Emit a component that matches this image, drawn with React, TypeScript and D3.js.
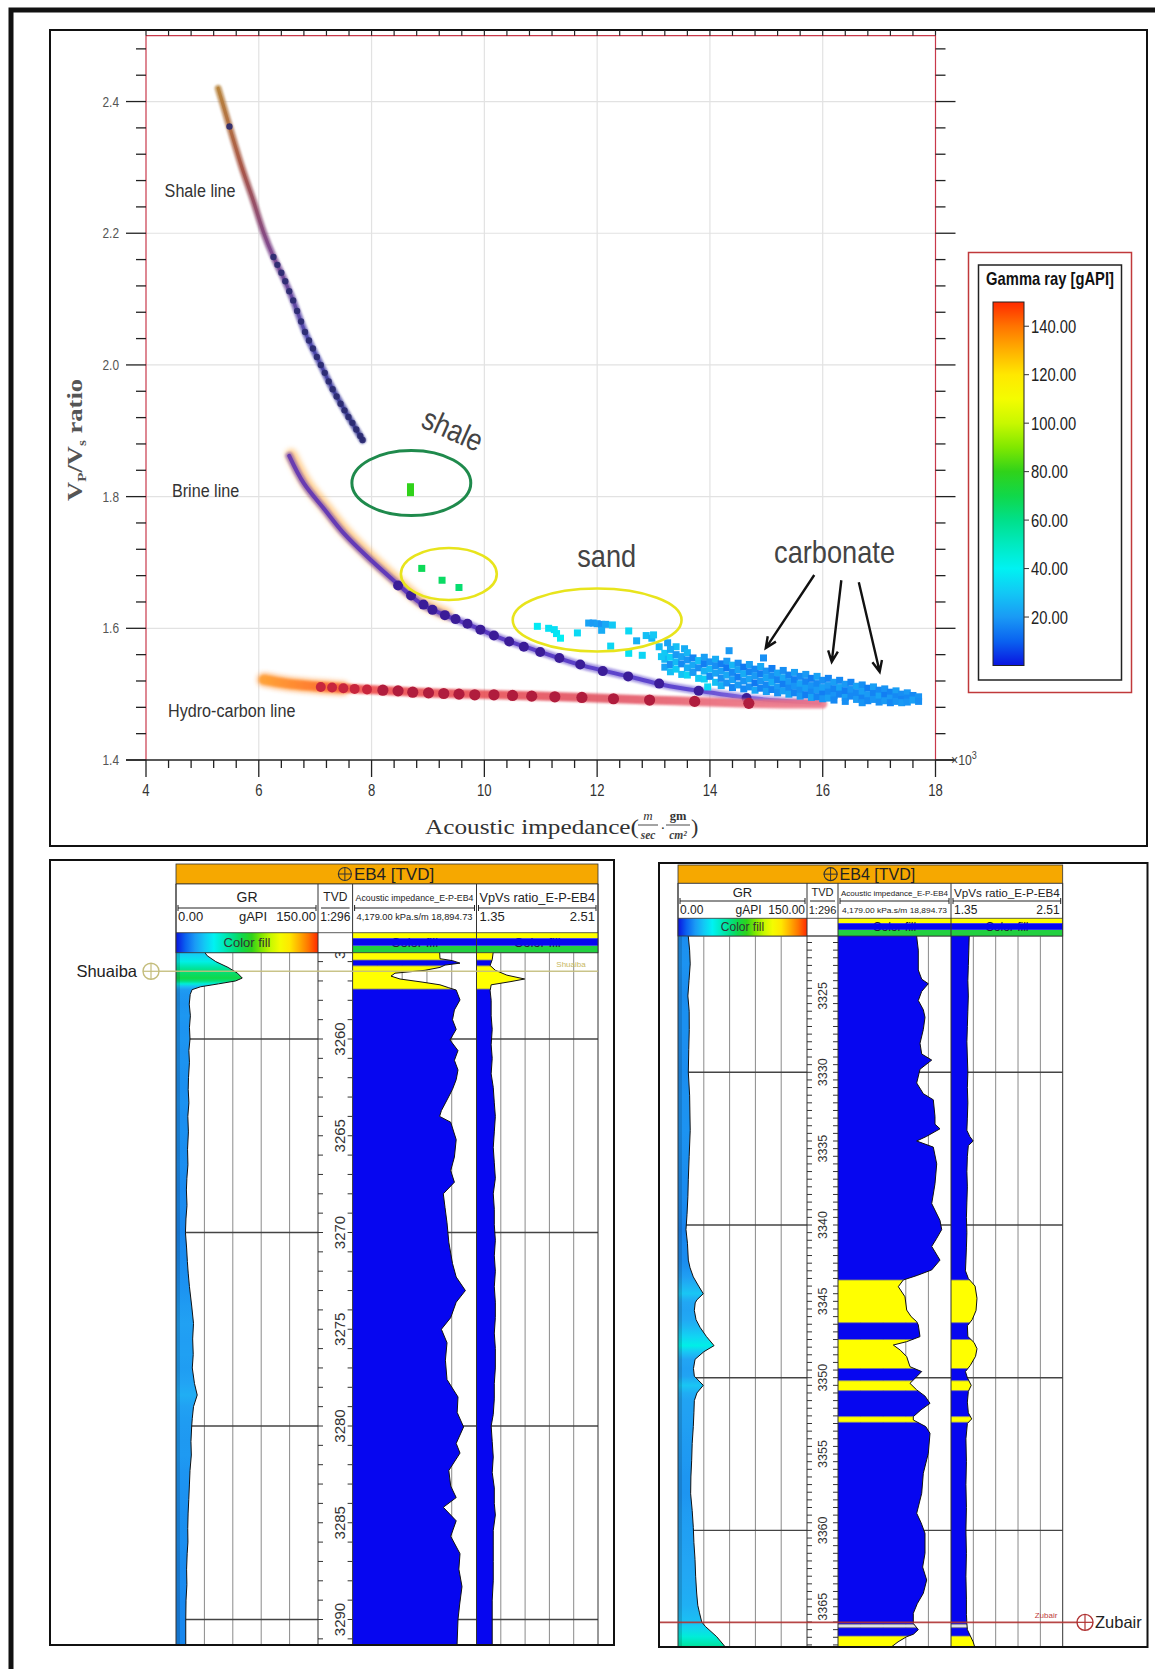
import React from "react";
import * as d3 from "d3";

const W = 1155;
const H = 1669;
const SANS = "'Liberation Sans',Arial,sans-serif";
const SERIF = "'Liberation Serif','Times New Roman',serif";
const NARROW_SX = 0.82;

// ================= Cross-plot: axes =================
const xMajorTicks = [4, 6, 8, 10, 12, 14, 16, 18];
const yMajorTicks = [1.4, 1.6, 1.8, 2.0, 2.2, 2.4];
const xGridValues = [6, 8, 10, 12, 14, 16];
const yGridValues = [1.6, 1.8, 2.0, 2.2, 2.4];

// ================= Gamma-ray colour scales =================
const grStops = [0, 10, 20, 30, 40, 50, 60, 70, 80, 90, 100, 110, 120, 130, 140, 150];
const grColors = ["#0a14e0", "#0a62f0", "#1a9af5", "#12c8f5", "#00f2f2", "#00eac0", "#00e08a", "#10d84a", "#30d21a", "#80e800", "#c8f800", "#f4fc00", "#ffe800", "#ffb000", "#ff7400", "#ff2a00"];
const logFillColors = ["#1048e6", "#1886ee", "#22a6f4", "#18c8f4", "#00f0f0", "#00eac0", "#00e08a", "#10d84a", "#30d21a", "#80e800", "#c8f800", "#f4fc00", "#ffe800", "#ffb000", "#ff7400", "#ff2a00"];
const legendTicks = [20, 40, 60, 80, 100, 120, 140];

// ================= Rock-physics template lines =================
const shaleLine = [[5.28, 2.42], [5.35, 2.4], [5.48, 2.362], [5.7, 2.3], [5.9, 2.25], [6.09, 2.2], [6.26, 2.164], [6.45, 2.13], [6.6, 2.1], [6.82, 2.05], [7.1, 2.0], [7.3, 1.965], [7.53, 1.93], [7.84, 1.886]];
const shaleDots = [[5.48, 2.362], [6.26, 2.164], [6.33, 2.152], [6.4, 2.14], [6.47, 2.127], [6.54, 2.112], [6.61, 2.098], [6.68, 2.082], [6.75, 2.066], [6.82, 2.05], [6.89, 2.037], [6.96, 2.025], [7.03, 2.012], [7.1, 2.0], [7.17, 1.988], [7.24, 1.975], [7.31, 1.963], [7.38, 1.952], [7.45, 1.941], [7.52, 1.931], [7.59, 1.921], [7.66, 1.912], [7.73, 1.902], [7.8, 1.892], [7.84, 1.886]];
const brineLine = [[6.54, 1.862], [6.8, 1.82], [7.17, 1.78], [7.5, 1.745], [7.92, 1.709], [8.4, 1.672], [8.87, 1.638], [9.3, 1.62], [9.8, 1.603], [10.23, 1.587], [10.9, 1.567], [11.72, 1.544], [12.6, 1.526], [13.18, 1.514], [13.89, 1.504], [14.72, 1.494], [15.3, 1.49], [15.95, 1.487]];
const brineDots = [[8.47, 1.665], [8.7, 1.65], [8.92, 1.636], [9.08, 1.628], [9.3, 1.62], [9.49, 1.614], [9.7, 1.607], [9.93, 1.598], [10.17, 1.589], [10.44, 1.58], [10.7, 1.572], [10.99, 1.564], [11.33, 1.555], [11.7, 1.545], [12.1, 1.535], [12.55, 1.527], [13.1, 1.516], [13.8, 1.505], [14.65, 1.494]];
const hcLine = [[6.09, 1.522], [6.5, 1.516], [7.0, 1.512], [7.5, 1.509], [8.19, 1.506], [9.0, 1.502], [10.23, 1.499], [11.72, 1.495], [12.93, 1.491], [13.73, 1.489], [14.68, 1.486], [15.3, 1.485], [16.0, 1.485]];
const hcDots = [[7.1, 1.511], [7.3, 1.51], [7.5, 1.509], [7.7, 1.508], [7.92, 1.507], [8.2, 1.506], [8.47, 1.505], [8.73, 1.503], [9.01, 1.502], [9.28, 1.501], [9.55, 1.5], [9.83, 1.499], [10.17, 1.499], [10.5, 1.498], [10.84, 1.497], [11.25, 1.496], [11.73, 1.495], [12.29, 1.493], [12.93, 1.491], [13.73, 1.489], [14.69, 1.486]];

// ================= Well-log samples (AI x1000, Vp/Vs, GR) =================
const shaleSamples = [[8.69, 1.815, 80], [8.69, 1.806, 80]];
const shalySandSamples = [[8.89, 1.691, 68], [9.25, 1.673, 66], [9.55, 1.662, 64]];
const sandSamples = [[10.94, 1.603, 38], [11.14, 1.6, 36], [11.24, 1.598, 35], [11.28, 1.592, 37], [11.35, 1.585, 39], [11.65, 1.593, 34], [11.85, 1.608, 22], [11.93, 1.608, 20], [12.0, 1.607, 21], [12.08, 1.606, 19], [12.08, 1.597, 24], [12.15, 1.606, 23], [12.24, 1.573, 33], [12.27, 1.605, 30], [12.56, 1.596, 34], [12.56, 1.562, 36], [12.7, 1.581, 25], [12.8, 1.559, 33], [12.87, 1.589, 28], [12.97, 1.585, 26], [13.0, 1.59, 30], [13.1, 1.572, 27], [13.14, 1.557, 30]];
const carbonateSamples = [
  [13.25, 1.578, 22], [13.4, 1.572, 28], [13.55, 1.569, 24], [13.9, 1.523, 32], [13.96, 1.511, 34], [14.34, 1.566, 20], [14.95, 1.555, 18],
  [13.2, 1.562, 30], [13.2, 1.553, 26], [13.2, 1.541, 22],
  [13.3, 1.568, 24], [13.3, 1.556, 32], [13.3, 1.545, 18], [13.3, 1.534, 28],
  [13.4, 1.56, 20], [13.4, 1.549, 27], [13.4, 1.538, 31],
  [13.5, 1.557, 22], [13.5, 1.546, 17], [13.5, 1.53, 29],
  [13.6, 1.563, 26], [13.6, 1.552, 19], [13.6, 1.54, 24], [13.6, 1.529, 33],
  [13.7, 1.555, 16], [13.7, 1.544, 23], [13.7, 1.533, 20],
  [13.8, 1.551, 28], [13.8, 1.54, 18], [13.8, 1.524, 30],
  [13.9, 1.556, 21], [13.9, 1.546, 15], [13.9, 1.535, 25],
  [14.0, 1.549, 19], [14.0, 1.538, 26], [14.0, 1.527, 17],
  [14.1, 1.553, 24], [14.1, 1.543, 18], [14.1, 1.532, 22], [14.1, 1.518, 28],
  [14.2, 1.546, 15], [14.2, 1.535, 21], [14.2, 1.524, 18], [14.2, 1.513, 25],
  [14.3, 1.55, 20], [14.3, 1.54, 14], [14.3, 1.529, 23], [14.3, 1.517, 19],
  [14.4, 1.544, 26], [14.4, 1.533, 17], [14.4, 1.522, 21], [14.4, 1.51, 16],
  [14.5, 1.547, 18], [14.5, 1.537, 22], [14.5, 1.526, 15], [14.5, 1.514, 20],
  [14.6, 1.541, 14], [14.6, 1.531, 24], [14.6, 1.52, 19], [14.6, 1.508, 17],
  [14.7, 1.545, 21], [14.7, 1.534, 16], [14.7, 1.523, 22], [14.7, 1.511, 18],
  [14.8, 1.538, 17], [14.8, 1.528, 20], [14.8, 1.517, 14], [14.8, 1.506, 23],
  [14.9, 1.542, 23], [14.9, 1.531, 15], [14.9, 1.52, 19], [14.9, 1.509, 16],
  [15.0, 1.535, 19], [15.0, 1.525, 22], [15.0, 1.514, 17], [15.0, 1.504, 21],
  [15.1, 1.539, 15], [15.1, 1.528, 18], [15.1, 1.518, 24], [15.1, 1.507, 16],
  [15.2, 1.532, 22], [15.2, 1.522, 16], [15.2, 1.511, 20], [15.2, 1.502, 18],
  [15.3, 1.536, 18], [15.3, 1.525, 23], [15.3, 1.515, 15], [15.3, 1.505, 21],
  [15.4, 1.529, 16], [15.4, 1.519, 20], [15.4, 1.509, 17], [15.4, 1.5, 22],
  [15.5, 1.533, 21], [15.5, 1.522, 15], [15.5, 1.512, 19], [15.5, 1.502, 16],
  [15.6, 1.527, 17], [15.6, 1.516, 22], [15.6, 1.506, 18], [15.6, 1.497, 20],
  [15.7, 1.53, 20], [15.7, 1.519, 16], [15.7, 1.509, 21], [15.7, 1.499, 15],
  [15.8, 1.524, 15], [15.8, 1.513, 19], [15.8, 1.503, 17], [15.8, 1.495, 22],
  [15.9, 1.527, 22], [15.9, 1.516, 17], [15.9, 1.506, 20], [15.9, 1.496, 16],
  [16.0, 1.521, 18], [16.0, 1.51, 21], [16.0, 1.5, 15], [16.0, 1.493, 19],
  [16.1, 1.524, 16], [16.1, 1.513, 20], [16.1, 1.503, 17], [16.1, 1.494, 21],
  [16.2, 1.518, 21], [16.2, 1.508, 16], [16.2, 1.498, 19], [16.2, 1.491, 17],
  [16.3, 1.521, 17], [16.3, 1.51, 22], [16.3, 1.5, 16],
  [16.4, 1.515, 20], [16.4, 1.505, 15], [16.4, 1.495, 21], [16.4, 1.489, 18],
  [16.5, 1.518, 16], [16.5, 1.507, 19], [16.5, 1.497, 17],
  [16.6, 1.512, 22], [16.6, 1.502, 17], [16.6, 1.492, 20],
  [16.7, 1.514, 18], [16.7, 1.504, 21], [16.7, 1.494, 16], [16.7, 1.487, 19],
  [16.8, 1.509, 15], [16.8, 1.499, 20], [16.8, 1.49, 17],
  [16.9, 1.511, 21], [16.9, 1.501, 16], [16.9, 1.492, 19],
  [17.0, 1.506, 17], [17.0, 1.497, 22], [17.0, 1.488, 18],
  [17.1, 1.508, 19], [17.1, 1.498, 15], [17.1, 1.49, 20],
  [17.2, 1.503, 16], [17.2, 1.494, 20], [17.2, 1.487, 17],
  [17.3, 1.505, 21], [17.3, 1.496, 17], [17.3, 1.489, 19],
  [17.4, 1.5, 18], [17.4, 1.492, 16], [17.4, 1.487, 20],
  [17.5, 1.502, 20], [17.5, 1.494, 17], [17.5, 1.488, 19],
  [17.6, 1.498, 17], [17.6, 1.491, 21],
  [17.7, 1.496, 19], [17.7, 1.489, 18],
];

// ================= Annotations (data units) =================
const templateLabels = [
  { text: "Shale line", x: 4.33, y: 2.255 },
  { text: "Brine line", x: 4.46, y: 1.8 },
  { text: "Hydro-carbon line", x: 4.39, y: 1.465 },
];
const clusterLabels = [
  { text: "shale", x: 9.44, y: 1.902, rot: 24 },
  { text: "sand", x: 12.17, y: 1.693, rot: 0 },
  { text: "carbonate", x: 16.21, y: 1.699, rot: 0 },
];
const clusterEllipses = [
  { cx: 8.705, cy: 1.8206, rx: 1.054, ry: 0.0494, color: "#1f8a4c", w: 3 },
  { cx: 9.37, cy: 1.6825, rx: 0.85, ry: 0.0395, color: "#e8e41c", w: 2.6 },
  { cx: 12.0, cy: 1.6126, rx: 1.497, ry: 0.0478, color: "#e8e41c", w: 2.6 },
];
const carbonateArrows = [
  [15.85, 1.681, 14.99, 1.57],
  [16.33, 1.673, 16.16, 1.549],
  [16.64, 1.67, 17.01, 1.534],
];

// ================= Well logs: EB4 upper interval (Shuaiba) =================
const leftDepthLabels = [3255, 3260, 3265, 3270, 3275, 3280, 3285, 3290];
const leftDepthGrid = [3260, 3270, 3280, 3290];
const leftGR = [[3255.5, 30], [3255.7, 33], [3256.0, 42], [3256.3, 55], [3256.6, 65], [3256.85, 70], [3257.0, 63], [3257.15, 45], [3257.3, 26], [3257.45, 17], [3257.7, 15], [3258.2, 14], [3258.8, 15.2], [3259.4, 14.2], [3260.0, 14.8], [3260.6, 13.6], [3261.2, 14.2], [3262.0, 13.2], [3262.6, 12.9], [3263.3, 13.6], [3264.0, 12.5], [3264.8, 13.1], [3265.7, 12.2], [3266.5, 12.6], [3267.2, 11.5], [3267.8, 11.0], [3268.6, 11.6], [3269.3, 10.5], [3270.0, 10.0], [3270.8, 11.2], [3271.5, 12.0], [3272.1, 12.9], [3272.8, 14.2], [3273.8, 16.6], [3274.7, 18.5], [3275.5, 17.6], [3276.3, 18.2], [3277.0, 17.2], [3277.8, 19.5], [3278.4, 22.4], [3279.0, 18.5], [3279.6, 17.2], [3280.0, 16.6], [3280.8, 15.8], [3281.5, 16.2], [3282.3, 14.8], [3283.0, 14.2], [3283.8, 13.5], [3284.5, 12.8], [3285.3, 12.4], [3286.0, 12.6], [3286.6, 11.8], [3287.4, 11.2], [3288.2, 11.5], [3289.0, 10.6], [3290.0, 10.3], [3291.4, 10.3]];
const leftAI = [[3255.5, 14512], [3255.85, 14560], [3255.95, 16044], [3256.08, 16935], [3256.18, 15153], [3256.3, 14559], [3256.45, 12778], [3256.6, 9215], [3256.75, 8740], [3256.9, 9809], [3257.05, 12303], [3257.2, 14559], [3257.35, 15605], [3257.47, 16484], [3257.98, 16935], [3258.5, 16270], [3259.0, 16044], [3259.5, 16484], [3260.05, 15747], [3260.6, 16697], [3261.1, 16270], [3261.6, 16697], [3262.1, 16484], [3262.6, 16044], [3263.15, 15391], [3263.7, 14726], [3264.0, 14512], [3264.3, 15830], [3265.2, 16484], [3266.1, 16270], [3266.8, 15830], [3267.4, 16270], [3268.0, 14952], [3268.7, 15153], [3269.5, 15391], [3270.5, 15605], [3271.6, 16044], [3272.3, 16484], [3273.0, 17576], [3273.6, 16484], [3274.4, 15830], [3275.0, 14726], [3275.7, 15391], [3276.6, 15200], [3277.6, 15391], [3278.5, 16697], [3279.3, 16600], [3280.05, 17362], [3280.9, 16484], [3281.4, 16935], [3282.3, 15605], [3283.1, 15830], [3283.7, 16484], [3284.2, 14952], [3284.9, 16484], [3285.7, 15830], [3286.6, 16935], [3287.4, 16800], [3288.3, 17172], [3289.2, 16900], [3290.0, 16697], [3291.4, 16579]];
const leftVpVs = [[3255.5, 1.51], [3255.9, 1.5], [3256.2, 1.48], [3256.45, 1.53], [3256.7, 1.64], [3256.9, 1.81], [3257.04, 1.67], [3257.2, 1.49], [3257.5, 1.48], [3258.0, 1.49], [3258.8, 1.49], [3259.5, 1.5], [3260.3, 1.49], [3261.0, 1.5], [3261.8, 1.49], [3262.5, 1.51], [3263.3, 1.52], [3264.0, 1.53], [3264.8, 1.52], [3265.6, 1.51], [3266.4, 1.52], [3267.2, 1.53], [3268.0, 1.51], [3268.8, 1.52], [3269.6, 1.52], [3270.4, 1.53], [3271.2, 1.52], [3272.0, 1.53], [3272.8, 1.52], [3273.6, 1.53], [3274.4, 1.53], [3275.2, 1.52], [3276.0, 1.53], [3277.0, 1.53], [3277.8, 1.52], [3278.6, 1.52], [3279.4, 1.51], [3280.0, 1.49], [3280.8, 1.5], [3281.6, 1.51], [3282.4, 1.5], [3283.2, 1.52], [3284.0, 1.52], [3284.6, 1.53], [3285.4, 1.51], [3286.2, 1.51], [3287.0, 1.51], [3288.0, 1.51], [3289.0, 1.5], [3290.0, 1.5], [3291.4, 1.5]];
const leftFacies = [[3255.4, 3255.92, "Y"], [3255.92, 3256.22, "B"], [3256.22, 3257.42, "Y"], [3257.42, 3291.5, "B"]];
const leftTops = [{ name: "Shuaiba", depth: 3256.5 }];

// ================= Well logs: EB4 lower interval (Zubair) =================
const rightDepthLabels = [3320, 3325, 3330, 3335, 3340, 3345, 3350, 3355, 3360, 3365];
const rightDepthGrid = [3330, 3340, 3350, 3360];
const rightGR = [[3320.9, 12], [3321.1, 12], [3322.0, 13.5], [3322.9, 14.2], [3324.0, 12.8], [3325.0, 11.5], [3326.0, 13], [3327.2, 13.1], [3328.5, 12.5], [3330.0, 12], [3331.5, 13.5], [3333.8, 14.2], [3335.5, 13], [3337.0, 12], [3338.15, 11.5], [3339.3, 10.5], [3340.3, 9.3], [3341.2, 11], [3342.3, 12], [3342.8, 14], [3343.4, 17.8], [3344.0, 24], [3344.5, 29.4], [3344.9, 22], [3345.1, 20], [3345.6, 19], [3346.2, 21], [3346.7, 25.6], [3347.3, 33], [3347.9, 41.9], [3348.3, 30], [3348.8, 19.8], [3349.4, 18], [3349.9, 19], [3350.5, 29.4], [3351.0, 22], [3351.5, 19], [3352.3, 18.5], [3353.2, 17.8], [3354.3, 16.5], [3355.4, 15.9], [3356.5, 15], [3357.6, 14.7], [3358.7, 16.5], [3359.8, 17.8], [3360.8, 18.5], [3361.9, 19.8], [3363.0, 20.5], [3364.1, 21.7], [3364.9, 23], [3365.4, 25], [3366.0, 27.6], [3366.3, 32], [3366.96, 45], [3367.7, 56]];
const rightAI = [[3320.9, 14428], [3321.12, 14428], [3322.0, 14636], [3323.3, 14636], [3323.9, 15079], [3324.2, 15939], [3324.7, 15079], [3325.3, 14636], [3325.9, 15288], [3326.4, 15509], [3327.2, 15288], [3328.1, 14858], [3328.8, 15079], [3329.2, 16382], [3329.8, 14858], [3330.7, 14428], [3331.4, 15288], [3331.8, 16590], [3332.9, 16811], [3333.4, 16811], [3333.7, 17462], [3334.2, 15700], [3334.5, 14428], [3334.9, 16590], [3336.0, 17033], [3337.3, 16811], [3338.6, 16382], [3339.7, 17462], [3340.3, 17684], [3340.9, 17000], [3341.4, 16382], [3342.3, 17462], [3342.94, 16382], [3343.3, 14500], [3343.6, 12683], [3344.04, 12032], [3344.7, 12904], [3345.57, 13126], [3346.0, 13700], [3346.33, 14428], [3346.55, 14636], [3347.31, 14858], [3347.64, 13126], [3347.86, 11381], [3348.2, 12300], [3348.62, 13126], [3349.28, 13556], [3349.6, 15079], [3349.93, 14428], [3350.37, 13556], [3350.8, 14428], [3351.2, 15500], [3351.68, 16160], [3352.1, 15000], [3352.55, 13985], [3352.77, 13985], [3353.2, 15600], [3353.64, 16160], [3354.95, 15939], [3356.26, 15288], [3357.57, 15079], [3358.88, 14428], [3359.5, 15000], [3360.19, 15509], [3361.5, 15509], [3362.4, 15200], [3363.25, 15730], [3364.12, 15288], [3364.8, 14500], [3365.43, 13985], [3366.09, 13985], [3366.5, 14636], [3366.8, 14000], [3366.96, 13126], [3367.3, 12000], [3367.7, 10951]];
const rightVpVs = [[3320.9, 1.54], [3322.0, 1.535], [3323.0, 1.53], [3324.0, 1.525], [3325.0, 1.53], [3326.0, 1.525], [3327.0, 1.52], [3328.0, 1.515], [3329.0, 1.52], [3330.0, 1.525], [3331.0, 1.52], [3332.0, 1.525], [3333.0, 1.52], [3333.8, 1.515], [3334.2, 1.545], [3334.5, 1.58], [3334.8, 1.53], [3335.5, 1.52], [3336.5, 1.515], [3337.5, 1.52], [3338.5, 1.515], [3339.5, 1.51], [3340.5, 1.515], [3341.5, 1.51], [3342.3, 1.505], [3343.0, 1.5], [3343.5, 1.53], [3344.0, 1.6], [3344.8, 1.62], [3345.6, 1.61], [3346.2, 1.57], [3346.6, 1.52], [3347.3, 1.525], [3347.7, 1.59], [3348.1, 1.62], [3348.6, 1.605], [3349.2, 1.55], [3349.6, 1.5], [3350.0, 1.52], [3350.5, 1.56], [3350.9, 1.53], [3351.6, 1.52], [3352.3, 1.53], [3352.7, 1.565], [3353.0, 1.52], [3354.0, 1.505], [3355.5, 1.51], [3357.0, 1.505], [3358.5, 1.51], [3360.0, 1.505], [3361.5, 1.51], [3363.0, 1.505], [3364.5, 1.51], [3365.5, 1.51], [3366.1, 1.515], [3366.5, 1.52], [3366.9, 1.55], [3367.3, 1.58], [3367.7, 1.6]];
const rightFacies = [[3320.8, 3343.6, "B"], [3343.6, 3346.4, "Y"], [3346.4, 3347.5, "B"], [3347.5, 3349.4, "Y"], [3349.4, 3350.2, "B"], [3350.2, 3350.85, "Y"], [3350.85, 3352.55, "B"], [3352.55, 3352.92, "Y"], [3352.92, 3366.15, "B"], [3366.15, 3366.37, "W"], [3366.37, 3366.92, "B"], [3366.92, 3367.8, "Y"]];
const rightTops = [{ name: "Zubair", depth: 3366.02 }];

const faciesColor: any = { B: "#0606f0", Y: "#ffff00", W: "#dedee8" };

const cmap = d3.scaleLinear<string>().domain(grStops).range(grColors).clamp(true);
const logCmap = d3.scaleLinear<string>().domain(grStops).range(logFillColors).clamp(true);

// condensed sans text (Arial Narrow look)
function NText({ x, y, sx = NARROW_SX, anchor = "start", rot = 0, children, ...rest }: any) {
  return (
    <text transform={`translate(${x},${y}) rotate(${rot}) scale(${sx},1)`} textAnchor={anchor} fontFamily={SANS} {...rest}>
      {children}
    </text>
  );
}

// ================= Cross-plot component =================
function CrossPlot() {
  const L = 146, R = 935.5, T = 35.7, B = 760;
  const x = d3.scaleLinear().domain([4, 18]).range([L, R]);
  const y = d3.scaleLinear().domain([1.4, 2.5]).range([B, T]);
  const xMinor = d3.range(4, 18.001, 0.4);
  const yMinor = d3.range(1.4, 2.4801, 0.04);
  const curve = d3.line<any>().x((d) => x(d[0])).y((d) => y(d[1])).curve(d3.curveCatmullRom.alpha(0.5));
  const cb = d3.scaleLinear().domain([0, 150]).range([665.5, 302]);
  const sq = 7;
  const allSamples = [...carbonateSamples, ...sandSamples, ...shalySandSamples, ...shaleSamples];

  const arrowHead = (a: number[]) => {
    const x1 = x(a[0]), y1 = y(a[1]), x2 = x(a[2]), y2 = y(a[3]);
    const ang = Math.atan2(y2 - y1, x2 - x1);
    const len = 12;
    const p1 = [x2 - len * Math.cos(ang - 0.42), y2 - len * Math.sin(ang - 0.42)];
    const p2 = [x2 - len * Math.cos(ang + 0.42), y2 - len * Math.sin(ang + 0.42)];
    return `M${x1},${y1}L${x2},${y2}M${p1[0]},${p1[1]}L${x2},${y2}L${p2[0]},${p2[1]}`;
  };

  return (
    <g>
      <defs>
        <filter id="blurA" filterUnits="userSpaceOnUse" x="0" y="0" width={W} height={H}>
          <feGaussianBlur stdDeviation="1.2" />
        </filter>
        <filter id="blurB" filterUnits="userSpaceOnUse" x="0" y="0" width={W} height={H}>
          <feGaussianBlur stdDeviation="2.4" />
        </filter>
        <filter id="blurDot" filterUnits="userSpaceOnUse" x="0" y="0" width={W} height={H}>
          <feGaussianBlur stdDeviation="0.6" />
        </filter>
        <linearGradient id="shaleGrad" gradientUnits="userSpaceOnUse" x1={x(5.28)} y1={y(2.42)} x2={x(7.84)} y2={y(1.886)}>
          <stop offset="0" stopColor="#b8843e" />
          <stop offset="0.22" stopColor="#a85648" />
          <stop offset="0.45" stopColor="#7e4890" />
          <stop offset="0.7" stopColor="#4e48b0" />
          <stop offset="1" stopColor="#34368e" />
        </linearGradient>
        <linearGradient id="brineGrad" gradientUnits="userSpaceOnUse" x1={x(6.54)} y1={0} x2={x(15.95)} y2={0}>
          <stop offset="0" stopColor="#6a3cb0" />
          <stop offset="0.3" stopColor="#5a38c0" />
          <stop offset="0.75" stopColor="#5e48d0" />
          <stop offset="0.9" stopColor="#8a70e0" />
          <stop offset="1" stopColor="#c070b8" />
        </linearGradient>
        <linearGradient id="hcGrad" gradientUnits="userSpaceOnUse" x1={x(6.09)} y1={0} x2={x(16)} y2={0}>
          <stop offset="0" stopColor="#ffa030" />
          <stop offset="0.08" stopColor="#ff7a2a" />
          <stop offset="0.18" stopColor="#ee4040" />
          <stop offset="0.6" stopColor="#e04858" />
          <stop offset="1" stopColor="#f07888" />
        </linearGradient>
        <linearGradient id="cbGrad" x1="0" y1="1" x2="0" y2="0">
          {grStops.map((s, i) => (
            <stop key={i} offset={s / 150} stopColor={grColors[i]} />
          ))}
        </linearGradient>
      </defs>

      {/* panel frame */}
      <rect x={50} y={30} width={1097} height={816} fill="#fff" stroke="#111" strokeWidth={2} />

      {/* grid */}
      {xGridValues.map((v) => (
        <line key={"gx" + v} x1={x(v)} x2={x(v)} y1={T} y2={B} stroke="#e2e2e2" strokeWidth={1.2} />
      ))}
      {yGridValues.map((v) => (
        <line key={"gy" + v} x1={L} x2={R} y1={y(v)} y2={y(v)} stroke="#e2e2e2" strokeWidth={1.2} />
      ))}

      {/* template lines */}
      <path d={curve(shaleLine) as string} fill="none" stroke="url(#shaleGrad)" strokeWidth={7} strokeLinecap="round" opacity={0.8} filter="url(#blurA)" />
      <path d={curve(shaleLine) as string} fill="none" stroke="url(#shaleGrad)" strokeWidth={3} strokeLinecap="round" />
      {shaleDots.map((d, i) => (
        <circle key={"sd" + i} cx={x(d[0])} cy={y(d[1])} r={3.2} fill="#2c2c70" opacity={0.9} filter="url(#blurDot)" />
      ))}

      <path d={curve(brineLine.slice(0, 8)) as string} fill="none" stroke="#ffa838" strokeWidth={12} strokeLinecap="round" opacity={0.55} filter="url(#blurB)" transform="translate(2,-1)" />
      <path d={curve(brineLine) as string} fill="none" stroke="url(#brineGrad)" strokeWidth={8} strokeLinecap="round" opacity={0.55} filter="url(#blurA)" />
      <path d={curve(brineLine) as string} fill="none" stroke="url(#brineGrad)" strokeWidth={4} strokeLinecap="round" />
      {brineDots.map((d, i) => (
        <circle key={"bd" + i} cx={x(d[0])} cy={y(d[1])} r={5} fill="#3a1e98" filter="url(#blurDot)" />
      ))}

      <path d={curve(hcLine.slice(0, 4)) as string} fill="none" stroke="#ff8c28" strokeWidth={13} strokeLinecap="round" opacity={0.75} filter="url(#blurB)" />
      <path d={curve(hcLine) as string} fill="none" stroke="url(#hcGrad)" strokeWidth={9} strokeLinecap="round" opacity={0.85} filter="url(#blurA)" />
      {hcDots.map((d, i) => (
        <circle key={"hd" + i} cx={x(d[0])} cy={y(d[1])} r={i < 5 ? 5 : 5.6} fill={i < 5 ? "#c8283e" : "#b01e3c"} filter="url(#blurDot)" />
      ))}

      {/* samples */}
      {allSamples.map((d, i) => (
        <rect key={"p" + i} x={x(d[0]) - sq / 2} y={y(d[1]) - sq / 2} width={sq} height={sq} fill={cmap(d[2])} />
      ))}

      {/* annotations */}
      {clusterEllipses.map((e, i) => (
        <ellipse key={"el" + i} cx={x(e.cx)} cy={y(e.cy)} rx={x(e.cx + e.rx) - x(e.cx)} ry={y(e.cy) - y(e.cy + e.ry)} fill="none" stroke={e.color} strokeWidth={e.w} />
      ))}
      {carbonateArrows.map((a, i) => (
        <path key={"ar" + i} d={arrowHead(a)} fill="none" stroke="#111" strokeWidth={2.4} strokeLinejoin="miter" />
      ))}
      {clusterLabels.map((l, i) =>
        l.rot ? (
          <NText key={"cl" + i} x={x(l.x)} y={y(l.y)} rot={l.rot} sx={0.85} anchor="middle" dominantBaseline="central" fontSize={31} fill="#444">
            {l.text}
          </NText>
        ) : (
          <NText key={"cl" + i} x={x(l.x)} y={y(l.y)} sx={0.85} anchor="middle" fontSize={32} fill="#444">
            {l.text}
          </NText>
        )
      )}
      {templateLabels.map((l, i) => (
        <NText key={"tl" + i} x={x(l.x)} y={y(l.y)} sx={0.85} fontSize={19} fill="#333">
          {l.text}
        </NText>
      ))}

      {/* axes frame */}
      <line x1={L} x2={L} y1={T} y2={B} stroke="#c8384a" strokeWidth={1.2} />
      <line x1={L} x2={R} y1={T} y2={T} stroke="#c8384a" strokeWidth={1.2} />
      <line x1={R} x2={R} y1={T} y2={B} stroke="#c8384a" strokeWidth={1.2} />
      <line x1={L - 20} x2={R + 20} y1={B} y2={B} stroke="#222" strokeWidth={1.4} />

      {/* x ticks */}
      {xMinor.map((v, i) => {
        const major = Math.abs(v / 2 - Math.round(v / 2)) < 1e-6;
        return (
          <g key={"xt" + i}>
            <line x1={x(v)} x2={x(v)} y1={B} y2={B + (major ? 17 : 8)} stroke="#222" strokeWidth={1.3} />
            <line x1={x(v)} x2={x(v)} y1={30} y2={T} stroke="#222" strokeWidth={1.2} />
          </g>
        );
      })}
      {xMajorTicks.map((v) => (
        <NText key={"xl" + v} x={x(v)} y={796} anchor="middle" fontSize={16} fill="#333">
          {v}
        </NText>
      ))}
      {/* y ticks */}
      {yMinor.map((v, i) => {
        const major = Math.abs(v / 0.2 - Math.round(v / 0.2)) < 1e-6;
        return (
          <g key={"yt" + i}>
            <line x1={L - (major ? 20 : 10)} x2={L} y1={y(v)} y2={y(v)} stroke="#222" strokeWidth={1.3} />
            <line x1={R} x2={R + (major ? 20 : 10)} y1={y(v)} y2={y(v)} stroke="#222" strokeWidth={1.3} />
          </g>
        );
      })}
      {yMajorTicks.map((v) => (
        <NText key={"yl" + v} x={119} y={y(v) + 5} anchor="end" fontSize={14.5} fill="#555">
          {v.toFixed(1)}
        </NText>
      ))}
      <NText x={951} y={765} fontSize={15} fill="#444">
        ×10<tspan dy={-6} fontSize={11}>3</tspan>
      </NText>

      {/* axis titles */}
      <text transform="translate(82,440) rotate(-90)" textAnchor="middle" fontFamily={SERIF} fontWeight="bold" fontSize={21} fill="#555" textLength={122} lengthAdjust="spacingAndGlyphs">
        V<tspan fontSize={12} dy={4}>P</tspan>
        <tspan dy={-4}>/V</tspan>
        <tspan fontSize={12} dy={4}>s</tspan>
        <tspan dy={-4}> ratio</tspan>
      </text>
      <text x={425} y={834} fontFamily={SERIF} fontSize={22} fill="#333" textLength={214} lengthAdjust="spacingAndGlyphs">
        Acoustic impedance(
      </text>
      <text x={648} y={820} textAnchor="middle" fontFamily={SERIF} fontStyle="italic" fontSize={13} fill="#333">m</text>
      <line x1={638} x2={658} y1={825} y2={825} stroke="#333" strokeWidth={0.9} />
      <text x={648} y={839} textAnchor="middle" fontFamily={SERIF} fontStyle="italic" fontWeight="bold" fontSize={11.5} fill="#444">sec</text>
      <text x={661} y={829} fontFamily={SERIF} fontSize={15} fill="#333">.</text>
      <text x={678} y={820} textAnchor="middle" fontFamily={SERIF} fontSize={12.5} fontWeight="bold" fill="#333">gm</text>
      <line x1={666} x2={690} y1={825} y2={825} stroke="#333" strokeWidth={0.9} />
      <text x={678} y={839} textAnchor="middle" fontFamily={SERIF} fontStyle="italic" fontWeight="bold" fontSize={11.5} fill="#444">cm²</text>
      <text x={691} y={834} fontFamily={SERIF} fontSize={22} fill="#333">)</text>

      {/* legend */}
      <rect x={968.5} y={252.5} width={163} height={440} fill="#fff" stroke="#c0393b" strokeWidth={1.5} />
      <rect x={978.5} y={265} width={143} height={415} fill="#fff" stroke="#222" strokeWidth={1.5} />
      <NText x={1050} y={285} anchor="middle" fontWeight="bold" fontSize={18} fill="#111">
        Gamma ray [gAPI]
      </NText>
      <rect x={993} y={cb(150)} width={31} height={cb(0) - cb(150)} fill="url(#cbGrad)" stroke="#222" strokeWidth={1} />
      {legendTicks.map((t) => (
        <g key={"lt" + t}>
          <line x1={1024} x2={1029} y1={cb(t)} y2={cb(t)} stroke="#333" strokeWidth={1} />
          <NText x={1031} y={cb(t) + 6.5} fontSize={18} fill="#222">
            {t.toFixed(2)}
          </NText>
        </g>
      ))}
    </g>
  );
}

// ================= Log panel component =================
function LogPanel({ c }: any) {
  const ys = d3.scaleLinear().domain(c.depthRef).range(c.yRef);
  const [g0, g1] = c.tr.gr;
  const [t0, t1] = c.tr.tvd;
  const [a0, a1] = c.tr.ai;
  const [v0, v1] = c.tr.vp;
  const gx = d3.scaleLinear().domain([0, 150]).range([g0, g1]);
  const ax = d3.scaleLinear().domain([4179, 18894.73]).range([a0, a1]);
  const vx = d3.scaleLinear().domain([1.35, 2.51]).range([v0, v1]);
  const bt = c.bodyTop, bb = c.bodyBot;
  const h = c.hdr;
  const id = c.id;
  const area = (sx: any, x0: number) => d3.area<any>().y((d) => ys(d[0])).x0(x0).x1((d) => sx(d[1]));
  const line = (sx: any) => d3.line<any>().y((d) => ys(d[0])).x((d) => sx(d[1]));
  const dTop = ys.invert(bt), dBot = ys.invert(bb);
  const ticks = d3.range(Math.ceil(dTop / c.tickStep) * c.tickStep, dBot, c.tickStep);
  const clamp01 = (v: number) => Math.max(0, Math.min(1, v));
  const fifth = (a: number, b: number) => [1, 2, 3, 4].map((k) => a + ((b - a) * k) / 5);
  const scaleLine = (xa: number, xb: number) => (
    <g>
      <line x1={xa + 2} x2={xb - 2} y1={h.lineY} y2={h.lineY} stroke="#222" strokeWidth={1} />
      <line x1={xa + 2} x2={xa + 2} y1={h.lineY - 3} y2={h.lineY + 3} stroke="#222" strokeWidth={1} />
      <line x1={xb - 2} x2={xb - 2} y1={h.lineY - 3} y2={h.lineY + 3} stroke="#222" strokeWidth={1} />
    </g>
  );
  const stripes = (xa: number, xb: number) => {
    const hh = h.r3 - h.r2;
    return (
      <g>
        <rect x={xa} y={h.r2} width={xb - xa} height={hh * 0.28} fill="#ffff00" />
        <rect x={xa} y={h.r2 + hh * 0.65} width={xb - xa} height={hh * 0.35} fill="#22d040" />
        <text x={(xa + xb) / 2} y={h.r2 + hh * 0.72} textAnchor="middle" fontFamily={SANS} fontSize={c.fs.fill} fill="#222">
          Color fill
        </text>
        <rect x={xa} y={h.r2 + hh * 0.28} width={xb - xa} height={hh * 0.37} fill="#0606f0" />
      </g>
    );
  };
  const titleW = c.fs.title * 4.72 + 18;
  const titleX = (g0 + v1) / 2 - titleW / 2;
  const titleCY = (h.o1 + h.o2) / 2;

  return (
    <g>
      <defs>
        <clipPath id={`${id}-body`}>
          <rect x={g0} y={bt} width={v1 - g0} height={bb - bt} />
        </clipPath>
        <clipPath id={`${id}-tvd`}>
          <rect x={t0} y={bt} width={t1 - t0} height={bb - bt} />
        </clipPath>
        <clipPath id={`${id}-gr`}>
          <path d={area(gx, g0)(c.gr) as string} />
        </clipPath>
        <clipPath id={`${id}-ai`}>
          <path d={area(ax, a0)(c.ai) as string} />
        </clipPath>
        <clipPath id={`${id}-vp`}>
          <path d={area(vx, v0)(c.vp) as string} />
        </clipPath>
        <linearGradient id={`${id}-grgrad`} gradientUnits="userSpaceOnUse" x1={0} y1={bt} x2={0} y2={bb}>
          {c.gr.map((d: number[], i: number) => (
            <stop key={i} offset={clamp01((ys(d[0]) - bt) / (bb - bt))} stopColor={logCmap(d[1])} />
          ))}
        </linearGradient>
        <linearGradient id={`${id}-hdrgrad`} x1="0" y1="0" x2="1" y2="0">
          {grStops.map((s, i) => (
            <stop key={i} offset={s / 150} stopColor={grColors[i]} />
          ))}
        </linearGradient>
      </defs>

      <rect x={c.box[0]} y={c.box[1]} width={c.box[2] - c.box[0]} height={c.box[3] - c.box[1]} fill="#fff" stroke="#111" strokeWidth={2} />

      {/* header */}
      <rect x={g0} y={h.o1} width={v1 - g0} height={h.o2 - h.o1} fill="#f6a800" stroke="#333" strokeWidth={0.8} />
      <circle cx={titleX + 7} cy={titleCY} r={6.5} fill="none" stroke="#333" strokeWidth={1.1} />
      <line x1={titleX} x2={titleX + 14} y1={titleCY} y2={titleCY} stroke="#333" strokeWidth={1} />
      <line x1={titleX + 7} x2={titleX + 7} y1={titleCY - 6.5} y2={titleCY + 6.5} stroke="#333" strokeWidth={1} />
      <text x={titleX + 16} y={titleCY} dy="0.36em" fontFamily={SANS} fontSize={c.fs.title} fill="#222">
        EB4 [TVD]
      </text>

      <rect x={g0} y={h.o2} width={v1 - g0} height={h.r3 - h.o2} fill="#fff" stroke="#333" strokeWidth={0.8} />
      {/* GR header */}
      <text x={(g0 + g1) / 2} y={h.nameY} textAnchor="middle" fontFamily={SANS} fontSize={c.fs.name} fill="#222">GR</text>
      {scaleLine(g0, g1)}
      <text x={g0 + 2} y={h.valY} fontFamily={SANS} fontSize={c.fs.val} fill="#222">0.00</text>
      <text x={(g0 + g1) / 2 + 6} y={h.valY} textAnchor="middle" fontFamily={SANS} fontSize={c.fs.val} fill="#222">gAPI</text>
      <text x={g1 - 2} y={h.valY} textAnchor="end" fontFamily={SANS} fontSize={c.fs.val} fill="#222">150.00</text>
      <rect x={g0} y={h.r2} width={g1 - g0} height={h.r3 - h.r2} fill={`url(#${id}-hdrgrad)`} />
      <text x={(g0 + g1) / 2} y={(h.r2 + h.r3) / 2} dy="0.36em" textAnchor="middle" fontFamily={SANS} fontSize={c.fs.fill} fill="#333">Color fill</text>
      {/* TVD header */}
      <text x={(t0 + t1) / 2} y={h.nameY - 1} textAnchor="middle" fontFamily={SANS} fontSize={c.fs.small} fill="#222">TVD</text>
      <line x1={t0 + 3} x2={t1 - 3} y1={h.lineY} y2={h.lineY} stroke="#222" strokeWidth={1} />
      <text x={(t0 + t1) / 2} y={h.valY} textAnchor="middle" fontFamily={SANS} fontSize={c.fs.small} fill="#222">1:296</text>
      {/* AI header */}
      <text x={(a0 + a1) / 2} y={h.nameY - 1} textAnchor="middle" fontFamily={SANS} fontSize={c.fs.tiny} fill="#222" textLength={a1 - a0 - 6} lengthAdjust="spacingAndGlyphs">Acoustic impedance_E-P-EB4</text>
      {scaleLine(a0, a1)}
      <text x={(a0 + a1) / 2} y={h.valY - 1} textAnchor="middle" fontFamily={SANS} fontSize={c.fs.tiny} fill="#222" textLength={a1 - a0 - 8} lengthAdjust="spacingAndGlyphs">4,179.00 kPa.s/m 18,894.73</text>
      {stripes(a0, a1)}
      {/* VpVs header */}
      <text x={(v0 + v1) / 2} y={h.nameY} textAnchor="middle" fontFamily={SANS} fontSize={c.fs.vpname} fill="#222" textLength={v1 - v0 - 6} lengthAdjust="spacingAndGlyphs">VpVs ratio_E-P-EB4</text>
      {scaleLine(v0, v1)}
      <text x={v0 + 3} y={h.valY} fontFamily={SANS} fontSize={c.fs.val} fill="#222">1.35</text>
      <text x={v1 - 3} y={h.valY} textAnchor="end" fontFamily={SANS} fontSize={c.fs.val} fill="#222">2.51</text>
      {stripes(v0, v1)}

      {/* body */}
      <g clipPath={`url(#${id}-body)`}>
        {[...fifth(g0, g1), ...fifth(a0, a1), ...fifth(v0, v1)].map((xv, i) => (
          <line key={"vg" + i} x1={xv} x2={xv} y1={bt} y2={bb} stroke="#8a8a8a" strokeWidth={1} />
        ))}
        {c.grid.map((d: number) => (
          <g key={"hg" + d}>
            <line x1={g0} x2={t0} y1={ys(d)} y2={ys(d)} stroke="#444" strokeWidth={1.4} />
            <line x1={a0} x2={v1} y1={ys(d)} y2={ys(d)} stroke="#444" strokeWidth={1.4} />
          </g>
        ))}
        {/* GR fill */}
        <g clipPath={`url(#${id}-gr)`}>
          <rect x={g0} y={bt} width={g1 - g0} height={bb - bt} fill={`url(#${id}-grgrad)`} />
          <rect x={g0} y={bt} width={4} height={bb - bt} fill="#000" opacity={0.14} />
        </g>
        <path d={line(gx)(c.gr) as string} fill="none" stroke="#111" strokeWidth={1} />
        {/* AI fill */}
        <g clipPath={`url(#${id}-ai)`}>
          {c.facies.map((f: any[], i: number) => (
            <rect key={"fa" + i} x={a0} y={ys(f[0])} width={a1 - a0} height={ys(f[1]) - ys(f[0])} fill={faciesColor[f[2]]} />
          ))}
          {c.facies.slice(1).map((f: any[], i: number) => (
            <line key={"fb" + i} x1={a0} x2={a1} y1={ys(f[0])} y2={ys(f[0])} stroke="#777" strokeWidth={0.8} />
          ))}
        </g>
        <path d={line(ax)(c.ai) as string} fill="none" stroke="#111" strokeWidth={1} />
        {/* VpVs fill */}
        <g clipPath={`url(#${id}-vp)`}>
          {c.facies.map((f: any[], i: number) => (
            <rect key={"fv" + i} x={v0} y={ys(f[0])} width={v1 - v0} height={ys(f[1]) - ys(f[0])} fill={faciesColor[f[2]]} />
          ))}
          {c.facies.slice(1).map((f: any[], i: number) => (
            <line key={"fw" + i} x1={v0} x2={v1} y1={ys(f[0])} y2={ys(f[0])} stroke="#777" strokeWidth={0.8} />
          ))}
        </g>
        <path d={line(vx)(c.vp) as string} fill="none" stroke="#111" strokeWidth={1} />
        {/* TVD track */}
        <g clipPath={`url(#${id}-tvd)`}>
          {ticks.map((d: number, i: number) => (
            <g key={"tk" + i}>
              <line x1={t0} x2={t0 + 5} y1={ys(d)} y2={ys(d)} stroke="#333" strokeWidth={1} />
              <line x1={t1 - 5} x2={t1} y1={ys(d)} y2={ys(d)} stroke="#333" strokeWidth={1} />
            </g>
          ))}
          {c.labels.map((d: number) => (
            <text key={"dl" + d} transform={`translate(${(t0 + t1) / 2 + c.labelDx},${ys(d)}) rotate(-90)`} textAnchor="middle" dominantBaseline="central" fontFamily={SANS} fontSize={c.fs.depth} fill="#333">
              {d}
            </text>
          ))}
        </g>
      </g>

      {/* track separators */}
      {[g0, t0, a0, v0, v1].map((xv, i) => (
        <line key={"sep" + i} x1={xv} x2={xv} y1={h.o2} y2={bb} stroke="#333" strokeWidth={1} />
      ))}
      <line x1={g0} x2={v1} y1={h.r2} y2={h.r2} stroke="#333" strokeWidth={0.8} />
      <line x1={g0} x2={v1} y1={bt} y2={bt} stroke="#333" strokeWidth={0.8} />

      {/* formation tops */}
      {c.tops.map((tp: any) => {
        const yy = ys(tp.depth);
        return (
          <g key={tp.name}>
            <line x1={c.topLine[0]} x2={c.topLine[1]} y1={yy} y2={yy} stroke={c.topColor} strokeWidth={1.6} opacity={0.9} />
            <circle cx={c.topCircleX} cy={yy} r={8} fill="#fff" fillOpacity={0.2} stroke={c.topColor} strokeWidth={1.4} />
            <line x1={c.topCircleX - 8} x2={c.topCircleX + 8} y1={yy} y2={yy} stroke={c.topColor} strokeWidth={1.2} />
            <line x1={c.topCircleX} x2={c.topCircleX} y1={yy - 8} y2={yy + 8} stroke={c.topColor} strokeWidth={1.2} />
            <text x={c.topTextX} y={yy} dy="0.36em" textAnchor={c.topTextAnchor} fontFamily={SANS} fontSize={16.5} fill="#222">
              {tp.name}
            </text>
            <text x={c.topSmallX} y={yy - 4} textAnchor="middle" fontFamily={SANS} fontSize={8} fill={c.topSmallColor}>
              {tp.name}
            </text>
          </g>
        );
      })}
    </g>
  );
}

const leftCfg = {
  id: "lp",
  box: [50, 860, 614, 1645],
  hdr: { o1: 864, o2: 884, r2: 932.7, r3: 952.7, nameY: 902, lineY: 908, valY: 921 },
  tr: { gr: [176, 318], tvd: [318, 352.6], ai: [352.6, 476.5], vp: [476.5, 598] },
  bodyTop: 952.7,
  bodyBot: 1644,
  depthRef: [3260, 3290],
  yRef: [1039, 1619.5],
  tickStep: 1,
  labelDx: 4,
  fs: { title: 17, name: 14, val: 13, small: 12, tiny: 8.5, vpname: 12.5, fill: 13, depth: 15 },
  gr: leftGR,
  ai: leftAI,
  vp: leftVpVs,
  facies: leftFacies,
  labels: leftDepthLabels,
  grid: leftDepthGrid,
  tops: leftTops,
  topLine: [159, 598],
  topColor: "#c4bd7c",
  topCircleX: 151,
  topTextX: 137,
  topTextAnchor: "end",
  topSmallX: 571,
  topSmallColor: "#c8b860",
};

const rightCfg = {
  id: "rp",
  box: [659, 863, 1147.5, 1647],
  hdr: { o1: 865, o2: 883.3, r2: 918.3, r3: 936, nameY: 897, lineY: 901, valY: 914 },
  tr: { gr: [678, 807], tvd: [807, 838], ai: [838, 951], vp: [951, 1062.7] },
  bodyTop: 936,
  bodyBot: 1646,
  depthRef: [3330, 3360],
  yRef: [1072.3, 1530.4],
  tickStep: 0.5,
  labelDx: 0,
  fs: { title: 16, name: 13, val: 12, small: 11, tiny: 7.5, vpname: 11.5, fill: 12, depth: 12.5 },
  gr: rightGR,
  ai: rightAI,
  vp: rightVpVs,
  facies: rightFacies,
  labels: rightDepthLabels,
  grid: rightDepthGrid,
  tops: rightTops,
  topLine: [660, 1077],
  topColor: "#b03434",
  topCircleX: 1085,
  topTextX: 1095,
  topTextAnchor: "start",
  topSmallX: 1046,
  topSmallColor: "#c04040",
};

export default function App() {
  return (
    <svg width={W} height={H} viewBox={`0 0 ${W} ${H}`} style={{ position: "absolute", left: 0, top: 0, background: "#fff" }} xmlns="http://www.w3.org/2000/svg">
      <rect width={W} height={H} fill="#fff" />
      <CrossPlot />
      <LogPanel c={leftCfg} />
      <LogPanel c={rightCfg} />
      <path d="M11,1669 V10 H1155" fill="none" stroke="#111" strokeWidth={5} />
    </svg>
  );
}
